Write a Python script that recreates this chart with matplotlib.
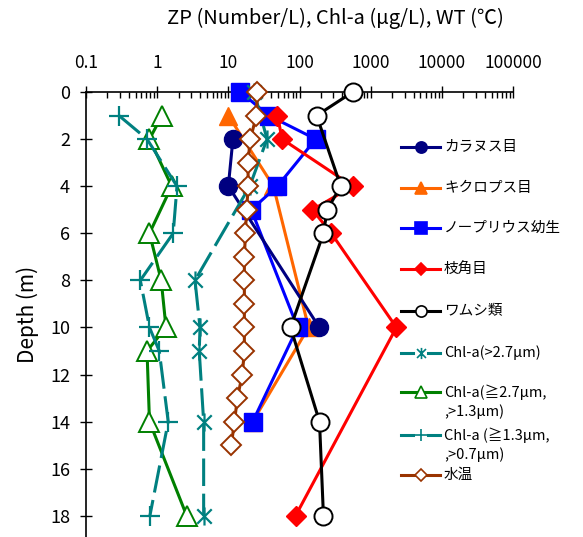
import numpy as np
import matplotlib
matplotlib.use('Agg')
import matplotlib.pyplot as plt
from matplotlib.lines import Line2D
from matplotlib.path import Path
from matplotlib.ticker import FixedLocator, FixedFormatter, LogLocator, NullFormatter

plt.rcParams['font.family'] = ['Noto Sans CJK JP', 'DejaVu Sans']

# depth (m) and values
calanoida_depth = [2, 4, 10]
calanoida = [11.6, 10, 190]
cyclopoida_depth = [1, 4, 10, 14]
cyclopoida = [10, 43, 134, 22]
nauplius_depth = [0, 1, 2, 4, 5, 10, 14]
nauplius = [14.8, 37, 169, 49, 21, 94, 22]
cladocera_depth = [1, 2, 4, 5, 6, 10, 18]
cladocera = [49, 57, 560, 152, 280, 2300, 88]
rotifera_depth = [0, 1, 4, 5, 6, 10, 14, 18]
rotifera = [560, 174, 380, 245, 217, 75, 191, 217]
chl_large_depth = [0, 2, 4, 8, 10, 11, 14, 18]
chl_large = [23, 35, 20, 3.4, 4.0, 3.9, 4.5, 4.5]
chl_mid_depth = [1, 2, 4, 6, 8, 10, 11, 14, 18]
chl_mid = [1.17, 0.78, 1.6, 0.78, 1.14, 1.33, 0.72, 0.78, 2.6]
chl_small_depth = [1, 2, 4, 6, 8, 10, 11, 14, 18]
chl_small = [0.29, 0.72, 1.9, 1.68, 0.58, 0.78, 1.07, 1.43, 0.79]
wt_depth = list(range(16))
wt = [25.6, 24.8, 20.4, 18.8, 19.1, 18.0, 17.4, 16.8, 16.8, 16.8, 16.8, 16.8,
      15.7, 13.4, 12.2, 11.0]

x_ticks = [0.1, 1, 10, 100, 1000, 10000, 100000]
x_tick_labels = ['0.1', '1', '10', '100', '1000', '10000', '100000']
y_ticks = list(range(0, 19, 2))

# asterisk marker like Excel's: vertical bar plus an X
asterisk = Path([(0, -1), (0, 1), (-0.8, -0.8), (0.8, 0.8), (-0.8, 0.8), (0.8, -0.8)],
                [Path.MOVETO, Path.LINETO] * 3)

dash = (9, 2.5)
series = [
    # label, x, depth, color, marker, ms, face, ls, zorder
    ('カラヌス目', calanoida, calanoida_depth, '#000080', 'o', 13, None, '-', 5),
    ('キクロプス目', cyclopoida, cyclopoida_depth, '#FF6600', '^', 13, None, '-', 3),
    ('ノープリウス幼生', nauplius, nauplius_depth, '#0000FF', 's', 13, None, '-', 4),
    ('枝角目', cladocera, cladocera_depth, '#FF0000', 'D', 10.5, None, '-', 6),
    ('ワムシ類', rotifera, rotifera_depth, '#000000', 'o', 13, 'white', '-', 7),
    ('Chl-a(>2.7μm)', chl_large, chl_large_depth, '#008080', asterisk, 13, None, '--', 8),
    ('Chl-a(≧2.7μm,\n,>1.3μm)', chl_mid, chl_mid_depth, '#008000', '^', 14, 'white', '-', 9),
    ('Chl-a (≧1.3μm,\n,>0.7μm)', chl_small, chl_small_depth, '#008080', '+', 14, None, '--', 10),
    ('水温', wt, wt_depth, '#993300', 'D', 10, 'white', '-', 11),
]

fig = plt.figure(figsize=(5.83, 5.37), dpi=100)
ax = fig.add_axes([86 / 583, 0.0, (513 - 86) / 583, 445 / 537])

for label, xs, ds, color, marker, ms, face, ls, z in series:
    thin = face == 'white' or marker in ('+',) or marker is asterisk
    line, = ax.plot(xs, ds, color=color, lw=2.2, ls=ls, marker=marker, ms=ms,
                    mfc=face if face else color, mec=color,
                    mew=1.4 if face else (1.6 if thin else 1), zorder=z, clip_on=False)
    if ls == '--':
        line.set_dashes(dash)

ax.set_xscale('log')
ax.set_xlim(0.1, 100000)
ax.set_ylim(18.9, 0)

ax.xaxis.tick_top()
ax.xaxis.set_major_locator(FixedLocator(x_ticks))
ax.xaxis.set_major_formatter(FixedFormatter(x_tick_labels))
ax.xaxis.set_minor_locator(LogLocator(base=10, subs=np.arange(2, 10), numticks=20))
ax.xaxis.set_minor_formatter(NullFormatter())
ax.tick_params(axis='x', which='major', direction='inout', length=9, width=1,
               labelsize=12.5, pad=10)
ax.tick_params(axis='x', which='minor', direction='in', length=4, width=1)
ax.set_yticks(y_ticks)
ax.tick_params(axis='y', direction='inout', length=9, width=1, labelsize=13, pad=7)

for side in ('right', 'bottom'):
    ax.spines[side].set_visible(False)
for side in ('top', 'left'):
    ax.spines[side].set_linewidth(1.2)

ax.set_ylabel('Depth (m)', fontsize=15, labelpad=8)
fig.text(335 / 583, 1 - 18 / 537, 'ZP (Number/L), Chl-a (μg/L), WT (℃)',
         ha='center', va='center', fontsize=14.5)

# legend drawn by hand so two-line labels keep the Excel layout
rows = [147, 188, 228, 269, 311, 353, 392, 435, 475]
W, H = 583, 537
for (label, xs, ds, color, marker, ms, face, ls, z), ry in zip(series, rows):
    y = 1 - ry / H
    if ls == '--':
        lx = [401 / W, 413 / W, np.nan, 428 / W, 440 / W]
        ly = [y] * 5
    else:
        lx = [401 / W, 440 / W]
        ly = [y, y]
    fig.add_artist(Line2D(lx, ly, color=color, lw=2.2, transform=fig.transFigure))
    fig.add_artist(Line2D([420.5 / W], [y], color=color, ls='none', marker=marker,
                          ms=ms * 0.62, mfc=face if face else color, mec=color,
                          mew=1.2, transform=fig.transFigure))
    for k, part in enumerate(label.split('\n')):
        fig.text(444 / W, 1 - (ry + 20 * k) / H, part, ha='left', va='center',
                 fontsize=10.5)

fig.savefig('out.png', dpi=100, facecolor='white')
